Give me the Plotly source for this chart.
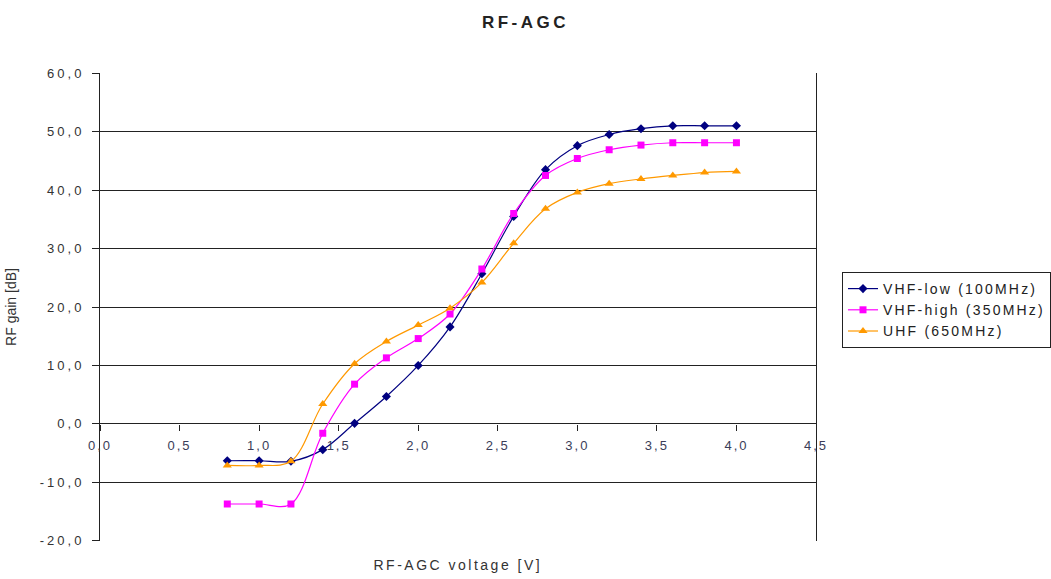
import plotly.graph_objects as go

voltage = [0.8, 1.0, 1.2, 1.4, 1.6, 1.8, 2.0, 2.2, 2.4, 2.6, 2.8, 3.0, 3.2, 3.4, 3.6, 3.8, 4.0]
vhf_low = [-6.3, -6.3, -6.4, -4.4, 0.1, 4.7, 10.0, 16.6, 25.7, 35.5, 43.5, 47.6, 49.5, 50.5, 51.0, 51.0, 51.0]
vhf_high = [-13.7, -13.7, -13.7, -1.6, 6.8, 11.3, 14.6, 18.8, 26.5, 36.0, 42.5, 45.4, 46.9, 47.7, 48.1, 48.1, 48.1]
uhf = [-7.1, -7.1, -6.4, 3.4, 10.3, 14.1, 16.9, 19.8, 24.2, 30.9, 36.8, 39.6, 41.1, 41.9, 42.5, 43.0, 43.2]

series_names = ["VHF-low (100MHz)", "VHF-high (350MHz)", "UHF (650MHz)"]

y_tickvals = [-20, -10, 0, 10, 20, 30, 40, 50, 60]
y_ticktext = ["-20,0", "-10,0", "0,0", "10,0", "20,0", "30,0", "40,0", "50,0", "60,0"]
x_tickvals = [0, 0.5, 1.0, 1.5, 2.0, 2.5, 3.0, 3.5, 4.0, 4.5]
x_ticktext = ["0,0", "0,5", "1,0", "1,5", "2,0", "2,5", "3,0", "3,5", "4,0", "4,5"]

FONT = "Liberation Sans, Arial, sans-serif"

fig = go.Figure()
styles = [
    ("#000080", "diamond", 7),
    ("#FF00FF", "square", 7),
    ("#FF9900", "triangle-up", 8),
]
for name, vals, (col, sym, sz) in zip(series_names, [vhf_low, vhf_high, uhf], styles):
    fig.add_trace(go.Scatter(
        x=voltage, y=vals, name=name, mode="lines+markers",
        line=dict(color=col, width=1.2, shape="spline", smoothing=1.0),
        marker=dict(color=col, symbol=sym, size=sz),
    ))

# tiny padding so the gridlines at -20 and 60 are drawn (plotly drops gridlines exactly at range ends)
y_lo, y_hi = -20.03, 60.03
zero_pos = (0 - y_lo) / (y_hi - y_lo)

fig.update_layout(
    width=1051, height=579,
    margin=dict(l=100, r=235, t=73, b=38, autoexpand=False),
    paper_bgcolor="white", plot_bgcolor="white",
    font=dict(family=FONT, size=13, color="#333333"),
    title=dict(text="<b>RF-AGC</b>", x=0.5, xanchor="center", xref="container",
               y=1 - 22 / 579, yanchor="middle", yref="container",
               font=dict(family=FONT, size=17, color="#222222")),
    showlegend=True,
    legend=dict(x=(842 - 100) / 716, xanchor="left", y=(541 - 272) / 468, yanchor="top",
                bordercolor="#222222", borderwidth=1, bgcolor="white",
                font=dict(family=FONT, size=14, color="#222222"),
                tracegroupgap=0),
    xaxis=dict(range=[0, 4.5], tickvals=x_tickvals, ticktext=x_ticktext,
               anchor="free", position=zero_pos, showgrid=False, zeroline=False,
               showline=False, automargin=False,
               ticks="outside", ticklen=6, tickcolor="#222222", ticklabelstandoff=3,
               tickfont=dict(family=FONT, size=13, color="#3a3d58")),
    yaxis=dict(range=[y_lo, y_hi], tickvals=y_tickvals, ticktext=y_ticktext,
               showgrid=True, gridcolor="#222222", gridwidth=1, zeroline=False,
               showline=True, linecolor="#222222", linewidth=1, mirror=True,
               automargin=False,
               ticks="outside", ticklen=7, tickcolor="#222222", ticklabelstandoff=5,
               tickfont=dict(family=FONT, size=13, color="#333333"),
               title=dict(text="RF gain [dB]", font=dict(family=FONT, size=14, color="#333333"),
                          standoff=34)),
)

fig.add_annotation(text="RF-AGC voltage [V]", xref="paper", yref="paper",
                   x=0.5, y=-(565 - 541) / 468, xanchor="center", yanchor="middle",
                   showarrow=False, font=dict(family=FONT, size=14, color="#333333"))

spacing_js = """
var gd = document.getElementById('{plot_id}');
var st = document.createElement('style');
st.textContent = '.xtick text{letter-spacing:2px;} .ytick text{letter-spacing:3px;} ' +
  'text.gtitle{letter-spacing:3.5px;} text.annotation-text{letter-spacing:2.5px;} ' +
  'text.legendtext{letter-spacing:2.2px;}';
document.head.appendChild(st);
return Plotly.relayout(gd, {'legend.font.size': 14.001});
"""

fig.write_html("out.html", post_script=spacing_js)
